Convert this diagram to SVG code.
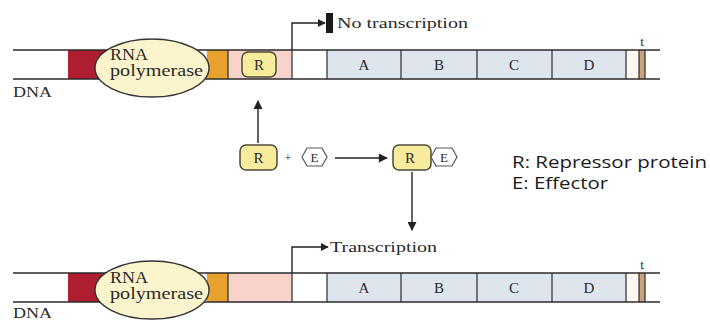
<svg xmlns="http://www.w3.org/2000/svg" width="710" height="320" viewBox="0 0 710 320">
  <style>
    .serif { font-family: "Liberation Serif", "DejaVu Serif", serif; fill: #2a2a2a; }
    .gene { font-size: 15px; text-anchor: middle; }
    .strand { stroke: #2a2a2a; stroke-width: 1.3; fill: none; }
    .div { stroke: #2a2a2a; stroke-width: 1.2; }
    .conn { stroke: #222; stroke-width: 1.4; fill: none; }
    .rep { fill: #f8ec9c; stroke: #4a4a3a; stroke-width: 1.5; }
    .eff { fill: #ffffff; stroke: #555; stroke-width: 1.2; }
    .pol { fill: #fbf4cc; stroke: #333; stroke-width: 1.4; }
    .legend { font-family: "Open Sans", "Liberation Sans", sans-serif; font-size: 17px; fill: #1a1a1a; }
  </style>
  <defs>
    <marker id="head" viewBox="0 0 10 10" refX="9" refY="5" markerWidth="8" markerHeight="8" markerUnits="userSpaceOnUse" orient="auto">
      <path d="M0,0 L10,5 L0,10 z" fill="#222"/>
    </marker>
    <marker id="headLg" viewBox="0 0 10 10" refX="9" refY="5" markerWidth="11" markerHeight="9" markerUnits="userSpaceOnUse" orient="auto">
      <path d="M0,0 L10,5 L0,10 z" fill="#222"/>
    </marker>
  </defs>
  <rect width="710" height="320" fill="#ffffff"/>

  <!-- Repressed operon (top) -->
  <g id="dna-top">
    <rect x="68" y="50" width="40" height="29" fill="#b01e32"/>
    <rect x="207" y="50" width="21" height="29" fill="#e8a02e"/>
    <rect x="228" y="50" width="64" height="29" fill="#f7d3ca"/>
    <rect x="327" y="50" width="299" height="29" fill="#dfe5ec"/>
    <rect x="626" y="50" width="13" height="29" fill="#fff7ee"/>
    <rect x="639" y="50" width="6" height="29" fill="#c9a27e"/>
    <line class="strand" x1="13" y1="50" x2="660" y2="50"/>
    <line class="strand" x1="13" y1="79" x2="660" y2="79"/>
    <line class="div" x1="228" y1="50" x2="228" y2="79"/>
    <line class="div" x1="292" y1="50" x2="292" y2="79"/>
    <line class="div" x1="327" y1="50" x2="327" y2="79"/>
    <line class="div" x1="401" y1="50" x2="401" y2="79"/>
    <line class="div" x1="477" y1="50" x2="477" y2="79"/>
    <line class="div" x1="552" y1="50" x2="552" y2="79"/>
    <line class="div" x1="626" y1="50" x2="626" y2="79"/>
    <line class="div" x1="639" y1="50" x2="639" y2="79"/>
    <line class="div" x1="645" y1="50" x2="645" y2="79"/>
    <text class="serif gene" x="364" y="70">A</text>
    <text class="serif gene" x="439" y="70">B</text>
    <text class="serif gene" x="514" y="70">C</text>
    <text class="serif gene" x="589" y="70">D</text>
    <text class="serif" x="642" y="46" font-size="13" text-anchor="middle">t</text>
    <text class="serif" x="13" y="97" font-size="15" textLength="39" lengthAdjust="spacingAndGlyphs">DNA</text>
  </g>
  <g id="polymerase-top">
    <ellipse class="pol" cx="152" cy="68" rx="57" ry="29"/>
    <text class="serif" x="110" y="60" font-size="16" textLength="38" lengthAdjust="spacingAndGlyphs">RNA</text>
    <text class="serif" x="110" y="76" font-size="16" textLength="93" lengthAdjust="spacingAndGlyphs">polymerase</text>
  </g>
  <g id="repressor-bound">
    <rect class="rep" x="242" y="52" width="34" height="25" rx="6"/>
    <text class="serif" x="259" y="69.5" font-size="15" text-anchor="middle">R</text>
  </g>
  <g id="no-transcription">
    <rect x="326" y="13" width="7" height="20" fill="#1a1a1a"/>
    <text class="serif" x="337" y="28" font-size="15" textLength="131" lengthAdjust="spacingAndGlyphs">No transcription</text>
  </g>

  <!-- Repressor + effector -->
  <g id="repressor-free">
    <rect class="rep" x="240" y="145" width="37" height="25" rx="6"/>
    <text class="serif" x="258.5" y="162.5" font-size="15" text-anchor="middle">R</text>
  </g>
  <text class="serif" x="288" y="162" font-size="12" text-anchor="middle">+</text>
  <g id="effector-free">
    <polygon class="eff" points="302,157 307,148 322,148 327,157 322,166 307,166"/>
    <text class="serif" x="314.5" y="162" font-size="13" text-anchor="middle">E</text>
  </g>
  <g id="complex">
    <rect class="rep" x="393" y="145" width="38" height="25" rx="6"/>
    <text class="serif" x="410" y="162.5" font-size="15" text-anchor="middle">R</text>
    <polygon class="eff" points="431,157 436,148 452,148 457,157 452,166 436,166"/>
    <text class="serif" x="444" y="162" font-size="13" text-anchor="middle">E</text>
  </g>
  <g id="legend">
    <text class="legend" x="512" y="168" textLength="195" lengthAdjust="spacingAndGlyphs">R: Repressor protein</text>
    <text class="legend" x="512" y="189" textLength="96" lengthAdjust="spacingAndGlyphs">E: Effector</text>
  </g>

  <!-- Induced operon (bottom) -->
  <g id="dna-bottom">
    <rect x="68" y="273" width="40" height="29" fill="#b01e32"/>
    <rect x="207" y="273" width="21" height="29" fill="#e8a02e"/>
    <rect x="228" y="273" width="64" height="29" fill="#f7d3ca"/>
    <rect x="327" y="273" width="299" height="29" fill="#dfe5ec"/>
    <rect x="626" y="273" width="13" height="29" fill="#fff7ee"/>
    <rect x="639" y="273" width="6" height="29" fill="#c9a27e"/>
    <line class="strand" x1="13" y1="273" x2="660" y2="273"/>
    <line class="strand" x1="13" y1="302" x2="660" y2="302"/>
    <line class="div" x1="228" y1="273" x2="228" y2="302"/>
    <line class="div" x1="292" y1="273" x2="292" y2="302"/>
    <line class="div" x1="327" y1="273" x2="327" y2="302"/>
    <line class="div" x1="401" y1="273" x2="401" y2="302"/>
    <line class="div" x1="477" y1="273" x2="477" y2="302"/>
    <line class="div" x1="552" y1="273" x2="552" y2="302"/>
    <line class="div" x1="626" y1="273" x2="626" y2="302"/>
    <line class="div" x1="639" y1="273" x2="639" y2="302"/>
    <line class="div" x1="645" y1="273" x2="645" y2="302"/>
    <text class="serif gene" x="364" y="293">A</text>
    <text class="serif gene" x="439" y="293">B</text>
    <text class="serif gene" x="514" y="293">C</text>
    <text class="serif gene" x="589" y="293">D</text>
    <text class="serif" x="642" y="269" font-size="13" text-anchor="middle">t</text>
    <text class="serif" x="13" y="318" font-size="15" textLength="39" lengthAdjust="spacingAndGlyphs">DNA</text>
  </g>
  <g id="polymerase-bottom">
    <ellipse class="pol" cx="152" cy="290" rx="57" ry="29"/>
    <text class="serif" x="110" y="283" font-size="16" textLength="38" lengthAdjust="spacingAndGlyphs">RNA</text>
    <text class="serif" x="110" y="299" font-size="16" textLength="93" lengthAdjust="spacingAndGlyphs">polymerase</text>
  </g>
  <g id="transcription">
    <text class="serif" x="330" y="252" font-size="15" textLength="107" lengthAdjust="spacingAndGlyphs">Transcription</text>
  </g>

  <!-- Connectors -->
  <g id="connectors">
    <path class="conn" d="M292,50 V23 H325" marker-end="url(#head)"/>
    <path class="conn" d="M292,273 V247 H328" marker-end="url(#head)"/>
    <path class="conn" d="M258,143 V101" marker-end="url(#headLg)"/>
    <path class="conn" d="M335,158 H387" marker-end="url(#headLg)"/>
    <path class="conn" d="M412,172 V230" marker-end="url(#headLg)"/>
  </g>
</svg>
